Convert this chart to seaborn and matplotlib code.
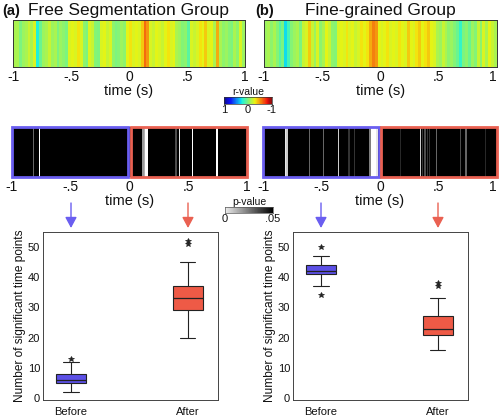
import numpy as np
import matplotlib
matplotlib.use("Agg")
import matplotlib.pyplot as plt
import seaborn as sns
from matplotlib.patches import Rectangle
from matplotlib.colors import ListedColormap

# ---------------- data ----------------
time_ticks = [-1, -0.5, 0, 0.5, 1]
time_tick_labels = ["-1", "-.5", "0", ".5", "1"]

# r-values along time (-1 .. 1 s), 80 bins
r_free = [-0.12, -0.12, 0.0, -0.08, -0.12, -0.2, -0.12, -0.25, 0.25, 0.05,
          -0.08, -0.12, -0.2, -0.08, -0.12, 0.0, -0.08, -0.04, 0.0, -0.25,
          -0.28, -0.25, -0.32, -0.25, -0.04, 0.0, -0.25, -0.2, -0.02, 0.0,
          -0.25, -0.28, -0.2, -0.25, -0.04, 0.0, -0.02, -0.08, -0.04, -0.28,
          -0.32, -0.25, -0.28, -0.25, -0.38, -0.6, -0.5, -0.25, -0.2, -0.28,
          -0.25, -0.2, -0.28, -0.32, -0.25, -0.28, -0.12, -0.08, -0.02, -0.04,
          0.1, -0.25, -0.2, -0.25, -0.32, -0.28, -0.38, -0.25, -0.28, -0.12,
          -0.45, -0.12, -0.04, -0.08, -0.02, 0.0, -0.12, -0.04, -0.25, -0.08]
r_fine = [-0.08, -0.12, -0.04, -0.12, -0.02, 0.1, 0.0, 0.3, 0.15, -0.02,
          -0.08, -0.12, 0.0, -0.2, -0.25, -0.38, -0.2, -0.08, -0.25, -0.04,
          -0.12, -0.28, -0.2, -0.04, -0.02, -0.25, -0.28, -0.25, -0.32, -0.25,
          -0.28, -0.2, -0.25, -0.32, -0.28, -0.32, -0.45, -0.55, -0.5, -0.28,
          -0.25, -0.28, -0.32, -0.25, -0.28, -0.25, -0.32, -0.28, -0.25, -0.38,
          -0.28, -0.25, -0.32, -0.38, -0.28, -0.32, -0.38, -0.28, -0.25, -0.12,
          -0.08, -0.2, -0.12, -0.04, -0.08, -0.02, 0.05, 0.2, 0.0, -0.04,
          0.05, -0.08, -0.02, -0.2, -0.04, -0.25, -0.12, -0.28, -0.2, -0.12]

# significant time points (s) and their p-values; all others p >= .05
sig_t_free = [-0.82, -0.77, 0.11, 0.12, 0.13, 0.14, 0.15, 0.39, 0.42, 0.53, 0.74]
sig_p_free = [0.03, 0.0, 0.02, 0.015, 0.0, 0.0, 0.0, 0.035, 0.005, 0.0, 0.0]
sig_t_fine = [-0.81, -0.80, -0.61, -0.49, -0.36, -0.27, -0.22, -0.09, -0.08, -0.07,
              -0.06, -0.05, -0.04, -0.03, 0.17, 0.34, 0.36, 0.38, 0.40, 0.42,
              0.48, 0.68, 0.73, 0.90]
sig_p_fine = [0.005, 0.01, 0.03, 0.03, 0.01, 0.04, 0.04, 0.025, 0.0, 0.0,
              0.0, 0.0, 0.0, 0.005, 0.042, 0.01, 0.04, 0.035, 0.04, 0.04,
              0.03, 0.035, 0.03, 0.042]

groups = ["Before", "After"]
# box summary: [whisker low, q1, median, q3, whisker high]
free_before = [2, 5, 6, 8, 12]
free_after = [20, 29, 33, 37, 45]
free_before_out = [13]
free_after_out = [51, 52]
fine_before = [37, 41, 42, 44, 47]
fine_after = [16, 21, 23, 27, 33]
fine_before_out = [34, 50]
fine_after_out = [37, 38]

# ---------------- style ----------------
sns.set_theme(style="white")
plt.rcParams["font.family"] = ["Liberation Sans", "DejaVu Sans"]
plt.rcParams["axes.linewidth"] = 0.7

BLUE_BOX = "#5c50e6"
RED_BOX = "#ee5a46"
BLUE_LINE = "#6a5ef0"
RED_LINE = "#ea6152"
DARK = "#222222"

# slightly muted jet (reversed: +1 blue, -1 red)
_jet = plt.get_cmap("jet_r")(np.linspace(0, 1, 256))
_jet[:, :3] = _jet[:, :3] * 0.9 + 0.1 * 0.55
RCMAP = ListedColormap(_jet)

W, H = 500, 418
fig = plt.figure(figsize=(W / 100, H / 100), dpi=100)


def px_axes(x0, y0, x1, y1):
    return fig.add_axes([x0 / W, 1 - y1 / H, (x1 - x0) / W, (y1 - y0) / H])


def set_time_ticks(ax, n, last_right=False):
    ax.set_xticks([(t + 1) / 2 * n for t in time_ticks])
    ax.set_xticklabels(time_tick_labels, rotation=0)
    ax.set_yticks([])
    ax.tick_params(axis="x", direction="in", length=3, width=0.6, color=DARK,
                   pad=2, labelsize=10, labelcolor="#111111")
    if last_right:
        ax.get_xticklabels()[-1].set_horizontalalignment("right")
    ax.set_xlabel("time (s)", fontsize=10.5, labelpad=0, color="#111111")


# ---- top r-value strips ----
for (x0, x1), r, title, tag, tagx, lr in [((13, 245), r_free, "Free Segmentation Group", "(a)", 2, False),
                                          ((264, 497), r_fine, "Fine-grained Group", "(b)", 255, True)]:
    ax = px_axes(x0, 20, x1, 67)
    sns.heatmap(np.array([r]), ax=ax, cmap=RCMAP, vmin=-1, vmax=1, cbar=False,
                xticklabels=False, yticklabels=False)
    set_time_ticks(ax, len(r), lr)
    for s in ax.spines.values():
        s.set_visible(True)
        s.set_linewidth(0.7)
        s.set_color("#333333")
    ax.set_title(title, fontsize=12.5, pad=3.5, color="#111111")
    fig.text(tagx / W, 1 - 15 / H, tag, fontsize=10.5, fontweight="bold",
             va="baseline", ha="left", color="#111111")

# ---- r-value colorbar ----
cax = px_axes(224, 97, 272, 104)
sns.heatmap(np.linspace(1, -1, 128)[None, :], ax=cax, cmap=RCMAP, vmin=-1, vmax=1,
            cbar=False, xticklabels=False, yticklabels=False)
cax.set_xticks([1, 64, 126])
cax.set_xticklabels(["1", "0", "-1"], rotation=0)
cax.set_yticks([])
cax.tick_params(axis="x", length=0, pad=1, labelsize=8, labelcolor="#111111")
cax.set_title("r-value", fontsize=7.5, pad=1.5, color="#111111")
for s in cax.spines.values():
    s.set_visible(True)
    s.set_linewidth(0.5)
    s.set_color("#333333")

# ---- p-value strips ----
NP = 200
for (x0, x1), ts, ps, lr in [((12, 247), sig_t_free, sig_p_free, False),
                             ((263, 497), sig_t_fine, sig_p_fine, True)]:
    pmap = np.full(NP, 0.05)
    for t, p in zip(ts, ps):
        pmap[min(int(round((t + 1) * NP / 2)), NP - 1)] = p
    ax = px_axes(x0, 127, x1, 177)
    sns.heatmap(pmap[None, :], ax=ax, cmap="gray_r", vmin=0, vmax=0.05, cbar=False,
                xticklabels=False, yticklabels=False)
    set_time_ticks(ax, NP, lr)
    ax.tick_params(axis="x", length=0, pad=2)
    ax.xaxis.labelpad = 0
    for s in ax.spines.values():
        s.set_visible(False)
    ax.add_patch(Rectangle((0, 0), 0.495, 1, transform=ax.transAxes, fill=False,
                           edgecolor=BLUE_LINE, lw=2, clip_on=False))
    ax.add_patch(Rectangle((0.505, 0), 0.495, 1, transform=ax.transAxes, fill=False,
                           edgecolor=RED_LINE, lw=2, clip_on=False))

# ---- p-value colorbar ----
pax = px_axes(225, 207, 273, 213)
sns.heatmap(np.linspace(0, 0.05, 128)[None, :], ax=pax, cmap="gray_r", vmin=-0.004,
            vmax=0.05, cbar=False, xticklabels=False, yticklabels=False)
pax.set_xticks([0, 128])
pax.set_xticklabels(["0", ".05"], rotation=0)
pax.set_yticks([])
pax.tick_params(axis="x", length=0, pad=1, labelsize=8, labelcolor="#111111")
pax.set_title("p-value", fontsize=7.5, pad=1.5, color="#111111")
for s in pax.spines.values():
    s.set_visible(True)
    s.set_linewidth(0.5)
    s.set_color("#555555")

# ---- box plots ----
panels = [((43, 218), [(free_before, free_before_out), (free_after, free_after_out)]),
          ((293, 468), [(fine_before, fine_before_out), (fine_after, fine_after_out)])]
for (x0, x1), groups_data in panels:
    ax = px_axes(x0, 232, x1, 400)
    stats = []
    for (lo, q1, med, q3, hi), out in groups_data:
        stats.append(dict(whislo=lo, q1=q1, med=med, q3=q3, whishi=hi, fliers=out))
    b = ax.bxp(stats, positions=[0, 1], widths=0.26, patch_artist=True, showfliers=True,
               flierprops=dict(marker="*", markersize=3.8, markerfacecolor=DARK,
                               markeredgecolor=DARK, markeredgewidth=0.5,
                               linestyle="none"),
               medianprops=dict(color=DARK, lw=0.9),
               whiskerprops=dict(color=DARK, lw=0.8),
               capprops=dict(color=DARK, lw=0.8),
               boxprops=dict(lw=0.8, edgecolor=DARK))
    for patch, c in zip(b["boxes"], [BLUE_BOX, RED_BOX]):
        patch.set_facecolor(c)
    ax.set_xlim(-0.24, 1.26)
    ax.set_ylim(-0.7, 55)
    ax.set_yticks(range(0, 51, 10))
    ax.set_xticks([0, 1])
    ax.set_xticklabels(groups)
    ax.tick_params(axis="both", direction="in", length=3, width=0.6, color=DARK,
                   labelsize=8, labelcolor="#111111")
    ax.tick_params(axis="y", pad=2)
    ax.tick_params(axis="x", pad=5)
    ax.set_ylabel("Number of significant time points", fontsize=8.6, labelpad=1,
                  color="#111111")
    for s in ax.spines.values():
        s.set_visible(True)
        s.set_linewidth(0.7)
        s.set_color("#444444")
    # arrows from the strip halves down to the boxes
    for xi, c in zip([x0 + 28, x0 + 145], [BLUE_LINE, RED_LINE]):
        ax.annotate("", xy=(xi, H - 228), xytext=(xi, H - 203),
                    xycoords="figure pixels", textcoords="figure pixels",
                    annotation_clip=False,
                    arrowprops=dict(arrowstyle="-|>,head_length=0.65,head_width=0.35",
                                    color=c, lw=1.0, shrinkA=0, shrinkB=0,
                                    mutation_scale=10))

fig.savefig("out.png", dpi=100)
